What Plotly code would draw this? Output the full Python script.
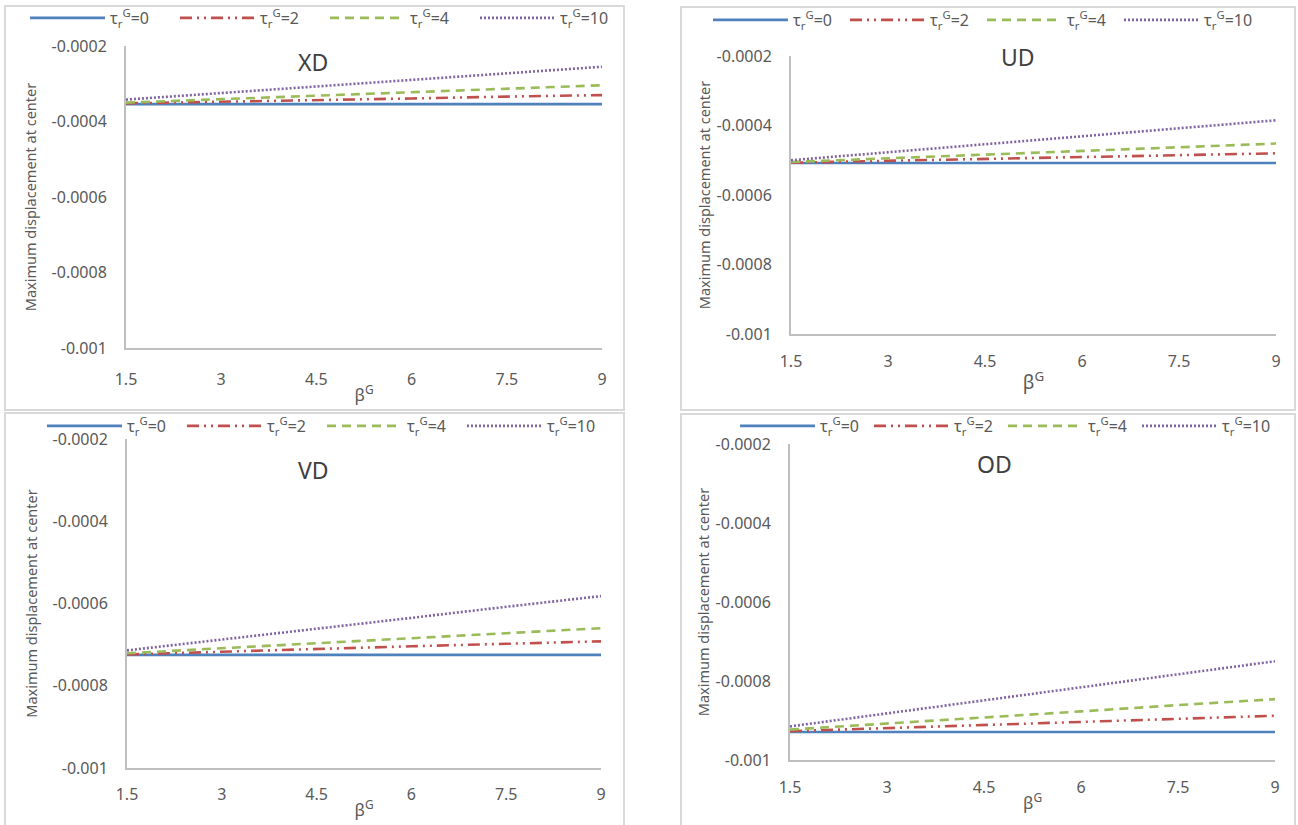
import plotly.graph_objects as go

W, H = 1298, 825

# ---------------- data ----------------
beta = [1.5, 3, 4.5, 6, 7.5, 9]
beta_ticks = ["1.5", "3", "4.5", "6", "7.5", "9"]
y_ticks = [-0.0002, -0.0004, -0.0006, -0.0008, -0.001]
y_ticktext = ["-0.0002", "-0.0004", "-0.0006", "-0.0008", "-0.001"]

series_names = ["τ<sub>r</sub><sup>G</sup>=0", "τ<sub>r</sub><sup>G</sup>=2",
                "τ<sub>r</sub><sup>G</sup>=4", "τ<sub>r</sub><sup>G</sup>=10"]

xd_t0 = [-0.000354, -0.000354, -0.000354, -0.000354, -0.000354, -0.000354]
xd_t2 = [-0.000352, -0.000348, -0.000343, -0.000339, -0.000334, -0.000330]
xd_t4 = [-0.000350, -0.000341, -0.000332, -0.000322, -0.000313, -0.000304]
xd_t10 = [-0.000342, -0.000325, -0.000307, -0.000290, -0.000272, -0.000255]

ud_t0 = [-0.000508, -0.000508, -0.000508, -0.000508, -0.000508, -0.000508]
ud_t2 = [-0.000507, -0.000502, -0.000496, -0.000491, -0.000485, -0.000480]
ud_t4 = [-0.000505, -0.000494, -0.000484, -0.000473, -0.000463, -0.000452]
ud_t10 = [-0.000500, -0.000477, -0.000454, -0.000431, -0.000408, -0.000385]

vd_t0 = [-0.000725, -0.000725, -0.000725, -0.000725, -0.000725, -0.000725]
vd_t2 = [-0.000724, -0.000717, -0.000710, -0.000704, -0.000698, -0.000692]
vd_t4 = [-0.000721, -0.000709, -0.000697, -0.000684, -0.000672, -0.000660]
vd_t10 = [-0.000714, -0.000688, -0.000661, -0.000635, -0.000608, -0.000582]

od_t0 = [-0.000929, -0.000929, -0.000929, -0.000929, -0.000929, -0.000929]
od_t2 = [-0.000927, -0.000919, -0.000911, -0.000904, -0.000896, -0.000888]
od_t4 = [-0.000923, -0.000908, -0.000892, -0.000877, -0.000861, -0.000846]
od_t10 = [-0.000915, -0.000882, -0.000849, -0.000816, -0.000783, -0.000750]

panel_titles = ["XD", "UD", "VD", "OD"]
panel_series = [
    [xd_t0, xd_t2, xd_t4, xd_t10],
    [ud_t0, ud_t2, ud_t4, ud_t10],
    [vd_t0, vd_t2, vd_t4, vd_t10],
    [od_t0, od_t2, od_t4, od_t10],
]

# ---------------- style ----------------
colors = ["#4F81BD", "#C0504D", "#9BBB59", "#8064A2"]
dashes = ["solid", "12px,5px,2px,5px,2px,5px", "9px,6px", "2px,2px"]
FONT = "Noto Sans"
TXT = "#595959"
AXC = "#BFBFBF"
BORDER = "#D9D9D9"


def px(x):
    return x / W


def py(y):
    return 1 - y / H


# panel geometry in pixels: border box, plot box, legend pos, title pos
panels = [
    dict(box=(5, 6, 624, 410), plot=(126, 46, 602, 348), leg=(25, 18), ttl=(313, 62),
         ytitle=12, xstand=0, xfs=17, tls=16, ew=60),
    dict(box=(681, 7, 1295, 410), plot=(791, 56, 1276, 334), leg=(708, 20), ttl=(1018, 57),
         ytitle=3, xstand=4, xfs=19, tls=12, ew=47),
    dict(box=(5, 413, 624, 835), plot=(127, 439, 601, 768), leg=(42, 426), ttl=(313, 470),
         ytitle=12, xstand=0, xfs=17, tls=11, ew=50),
    dict(box=(681, 414, 1295, 835), plot=(790, 444, 1275, 760), leg=(735, 426), ttl=(995, 464),
         ytitle=3, xstand=0, xfs=17, tls=12, ew=44),
]

fig = go.Figure()
layout = dict(
    width=W, height=H,
    margin=dict(l=0, r=0, t=0, b=0, autoexpand=False),
    paper_bgcolor="white", plot_bgcolor="white",
    font=dict(family=FONT, color=TXT, size=14),
    shapes=[], annotations=[],
)

for i, (p, title, series) in enumerate(zip(panels, panel_titles, panel_series)):
    n = "" if i == 0 else str(i + 1)
    legname = "legend" + n
    for name, vals, col, dsh in zip(series_names, series, colors, dashes):
        fig.add_trace(go.Scatter(
            x=beta, y=vals, mode="lines", name=name,
            line=dict(color=col, width=2.6, dash=dsh),
            xaxis="x" + n, yaxis="y" + n, legend=legname, cliponaxis=False,
        ))
    x0, y0, x1, y1 = p["plot"]
    layout["xaxis" + n] = dict(
        domain=[px(x0), px(x1)], anchor="y" + n, range=[1.5, 9],
        tickvals=beta, ticktext=beta_ticks, showgrid=False, zeroline=False,
        showline=True, linecolor=AXC, linewidth=2, ticks="",
        tickfont=dict(size=16, color=TXT), ticklabelstandoff=p["tls"],
        title=dict(text="β<sup>G</sup>", font=dict(size=p["xfs"], color=TXT),
                   standoff=p["xstand"]),
    )
    layout["yaxis" + n] = dict(
        domain=[py(y1), py(y0)], anchor="x" + n, range=[-0.001, -0.0002],
        tickvals=y_ticks, ticktext=y_ticktext, showgrid=False, zeroline=False,
        showline=True, linecolor=AXC, linewidth=2, ticks="",
        tickfont=dict(size=16, color=TXT), ticklabelstandoff=14,
        title=dict(text="Maximum displacement at center", font=dict(size=14.5, color=TXT),
                   standoff=p["ytitle"]),
    )
    lx, ly = p["leg"]
    layout[legname] = dict(
        orientation="h", x=px(lx), y=py(ly), xanchor="left", yanchor="middle",
        xref="paper", yref="paper", bgcolor="rgba(0,0,0,0)",
        font=dict(size=16, color=TXT), entrywidth=p["ew"], entrywidthmode="pixels",
        itemwidth=75, tracegroupgap=0,
    )
    bx0, by0, bx1, by1 = p["box"]
    layout["shapes"].append(dict(
        type="rect", xref="paper", yref="paper",
        x0=px(bx0), x1=px(bx1), y0=py(by1), y1=py(by0),
        line=dict(color=BORDER, width=2), fillcolor="rgba(0,0,0,0)", layer="below",
    ))
    tx, ty = p["ttl"]
    layout["annotations"].append(dict(
        text=title, xref="paper", yref="paper", x=px(tx), y=py(ty),
        xanchor="center", yanchor="middle", showarrow=False,
        font=dict(size=23, color="#404040"),
    ))

fig.update_layout(**layout)
fig.write_html("out.html", config={"displayModeBar": False},
               post_script="document.body.style.margin='0px';")
